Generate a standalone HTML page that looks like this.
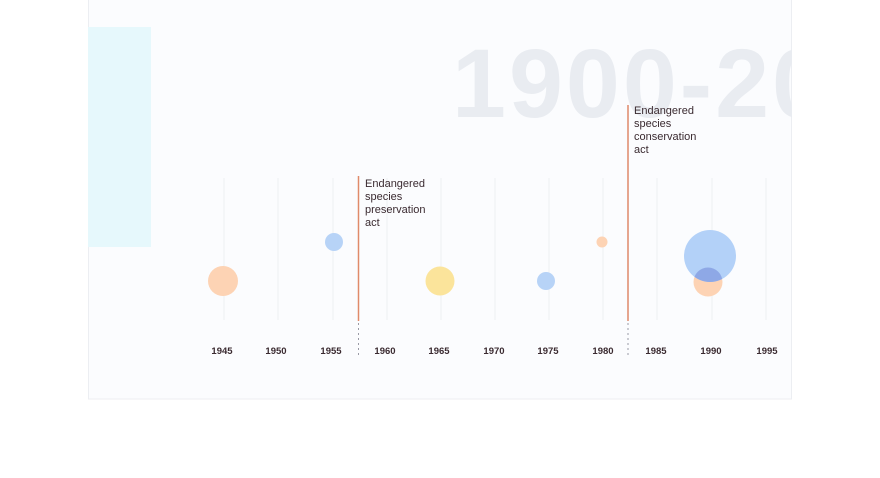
<!DOCTYPE html>
<html><head><style>
body{margin:0;width:880px;height:473px;background:#fff;overflow:hidden;font-family:"Liberation Sans",sans-serif}
</style></head><body>
<svg width="880" height="473" xmlns="http://www.w3.org/2000/svg">
<defs><clipPath id="c"><rect x="88" y="0" width="704" height="399"/></clipPath>
<clipPath id="b"><circle cx="710" cy="256" r="26"/></clipPath></defs>
<rect x="88.5" y="-1" width="703" height="400" fill="#fbfcfe" stroke="#eceef2"/>
<g clip-path="url(#c)">
<rect x="88" y="27" width="63" height="220" fill="#e6f8fc"/>
<text x="452" y="117" font-size="97" font-weight="bold" fill="#e9ecf1" letter-spacing="3">1900-2000</text>
</g>
<g stroke="#eef0f3" stroke-width="1">
<line x1="224" y1="178" x2="224" y2="320"/><line x1="278" y1="178" x2="278" y2="320"/>
<line x1="333" y1="178" x2="333" y2="320"/><line x1="387" y1="178" x2="387" y2="320"/>
<line x1="441" y1="178" x2="441" y2="320"/><line x1="495" y1="178" x2="495" y2="320"/>
<line x1="549" y1="178" x2="549" y2="320"/><line x1="603" y1="178" x2="603" y2="320"/>
<line x1="657" y1="178" x2="657" y2="320"/><line x1="712" y1="178" x2="712" y2="320"/>
<line x1="766" y1="178" x2="766" y2="320"/>
</g>
<g font-size="9.5" fill="#3a2a30" text-anchor="middle" font-weight="bold">
<text x="222" y="354">1945</text><text x="276" y="354">1950</text><text x="331" y="354">1955</text>
<text x="385" y="354">1960</text><text x="439" y="354">1965</text><text x="494" y="354">1970</text>
<text x="548" y="354">1975</text><text x="603" y="354">1980</text><text x="656" y="354">1985</text>
<text x="711" y="354">1990</text><text x="767" y="354">1995</text>
</g>
<line x1="358.5" y1="176" x2="358.5" y2="321" stroke="#e08a6a" stroke-width="1.5"/>
<line x1="358.5" y1="323" x2="358.5" y2="356" stroke="#9a9aa5" stroke-dasharray="2,3"/>
<line x1="628" y1="105" x2="628" y2="321" stroke="#e08a6a" stroke-width="1.5"/>
<line x1="628" y1="323" x2="628" y2="356" stroke="#9a9aa5" stroke-dasharray="2,3"/>
<g font-size="11" fill="#3a2a30">
<text x="365" y="187">Endangered</text><text x="365" y="200">species</text><text x="365" y="213">preservation</text><text x="365" y="226">act</text>
<text x="634" y="114">Endangered</text><text x="634" y="127">species</text><text x="634" y="140">conservation</text><text x="634" y="153">act</text>
</g>
<circle cx="223" cy="281" r="15" fill="#fdd3b4"/>
<circle cx="334" cy="242" r="9" fill="#b7d3f7"/>
<circle cx="440" cy="281" r="14.5" fill="#fbe49b"/>
<circle cx="546" cy="281" r="9" fill="#b7d3f7"/>
<circle cx="602" cy="242" r="5.5" fill="#fdd3b4"/>
<circle cx="708" cy="282" r="14.5" fill="#fdd3b4"/>
<circle cx="710" cy="256" r="26" fill="#b3d1f8"/>
<circle cx="708" cy="282" r="14.5" fill="#8ea8e6" clip-path="url(#b)"/>
</svg>
</body></html>
